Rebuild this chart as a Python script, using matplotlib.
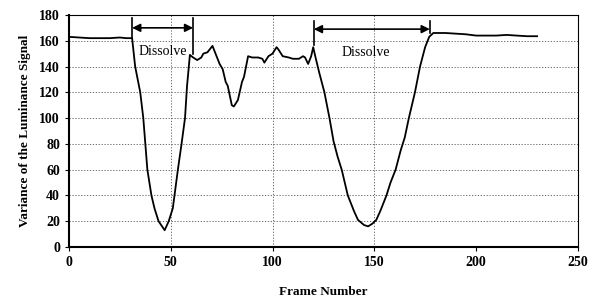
import numpy as np
import matplotlib
matplotlib.use("Agg")
import matplotlib.pyplot as plt

# luminance variance per frame
frames = [0, 5, 10, 15, 20, 25, 28, 31, 32.5, 35, 36.5, 37.5, 38.5, 40.5, 42, 44, 47,
          49, 51, 53.5, 55.3, 57, 58, 59.4, 61, 63, 65, 66, 68, 70.5, 72, 74, 75.5,
          77, 78, 80, 81, 83, 85, 86, 88, 90, 93, 95, 96, 98, 100, 102, 103, 105,
          108, 110, 113, 115, 116, 117.5, 119, 120, 121, 123, 125.5, 128, 130, 132,
          134, 137, 140, 142, 145, 147, 149, 151, 153, 156, 158, 160.5, 163, 165,
          167, 170, 172.5, 175, 177, 179, 185, 190, 195, 200, 205, 210, 215, 220,
          225, 230]
variance = [163, 162.5, 162, 162, 162, 162.5, 162, 162, 140, 120, 100, 80, 60, 40, 30, 20, 13,
            20, 30, 60, 80, 100, 125, 149, 147, 145, 147, 150, 151, 156, 150, 142, 138,
            128, 125, 110, 109, 114, 128, 132, 148, 147, 147, 146, 143, 148, 150, 155, 153, 148,
            147, 146, 146, 148, 147, 142, 148, 155, 148, 135, 120, 100, 82, 70,
            60, 40, 28, 21, 17, 16, 18, 21, 28, 40, 50, 60, 75, 85,
            100, 120, 140, 155, 163, 166, 166, 165.5, 165, 164, 164, 164, 164.5, 164,
            163.5, 163.5]

# dissolve intervals: (start, end, arrow level, bar top, left bar bottom, right bar bottom, label x, label y)
dissolves = [(31, 61, 170, 178, 162, 150, 46, 152),
             (120.3, 177.3, 169, 175.5, 157, 166, 146, 151)]

plt.rcParams["font.family"] = ["Liberation Serif", "DejaVu Serif"]

fig = plt.figure(figsize=(5.95, 2.99), dpi=100)
ax = fig.add_axes([0.116, 0.174, 0.855, 0.776])

ax.plot(frames, variance, color="black", linewidth=1.3)

for x0, x1, ya, top, yb0, yb1, tx, ty in dissolves:
    ax.annotate("", xy=(x0, ya), xytext=(x1, ya),
                arrowprops=dict(arrowstyle="<|-|>", color="black", lw=1.2,
                                mutation_scale=12, shrinkA=0, shrinkB=0))
    ax.plot([x0, x0], [top, yb0], color="black", lw=1.2)
    ax.plot([x1, x1], [top, yb1], color="black", lw=1.2)
    ax.text(tx, ty, "Dissolve", ha="center", va="center", fontsize=10)

for y in range(20, 180, 20):
    ax.axhline(y, color="#555555", lw=0.6, ls=(0, (1.5, 2)), zorder=0)
for x in (50, 100, 150):
    ax.axvline(x, color="#555555", lw=0.6, ls=(0, (1.5, 2)), zorder=0)

ax.set_xlim(0, 250)
ax.set_ylim(0, 180)
ax.set_xticks(range(0, 251, 50))
ax.set_yticks(range(0, 181, 20))
ax.tick_params(labelsize=10, length=3, width=0.8, direction="out")
for lab in ax.get_xticklabels() + ax.get_yticklabels():
    lab.set_fontweight("bold")

ax.spines["left"].set_linewidth(1.5)
ax.spines["bottom"].set_linewidth(1.5)
ax.spines["top"].set_linewidth(0.8)
ax.spines["right"].set_linewidth(0.8)

ax.set_xlabel("Frame Number", fontsize=9.5, fontweight="bold", labelpad=12)
ax.set_ylabel("Variance of the Luminance Signal", fontsize=9.5, fontweight="bold", labelpad=6)

fig.savefig("out.png", dpi=100)
